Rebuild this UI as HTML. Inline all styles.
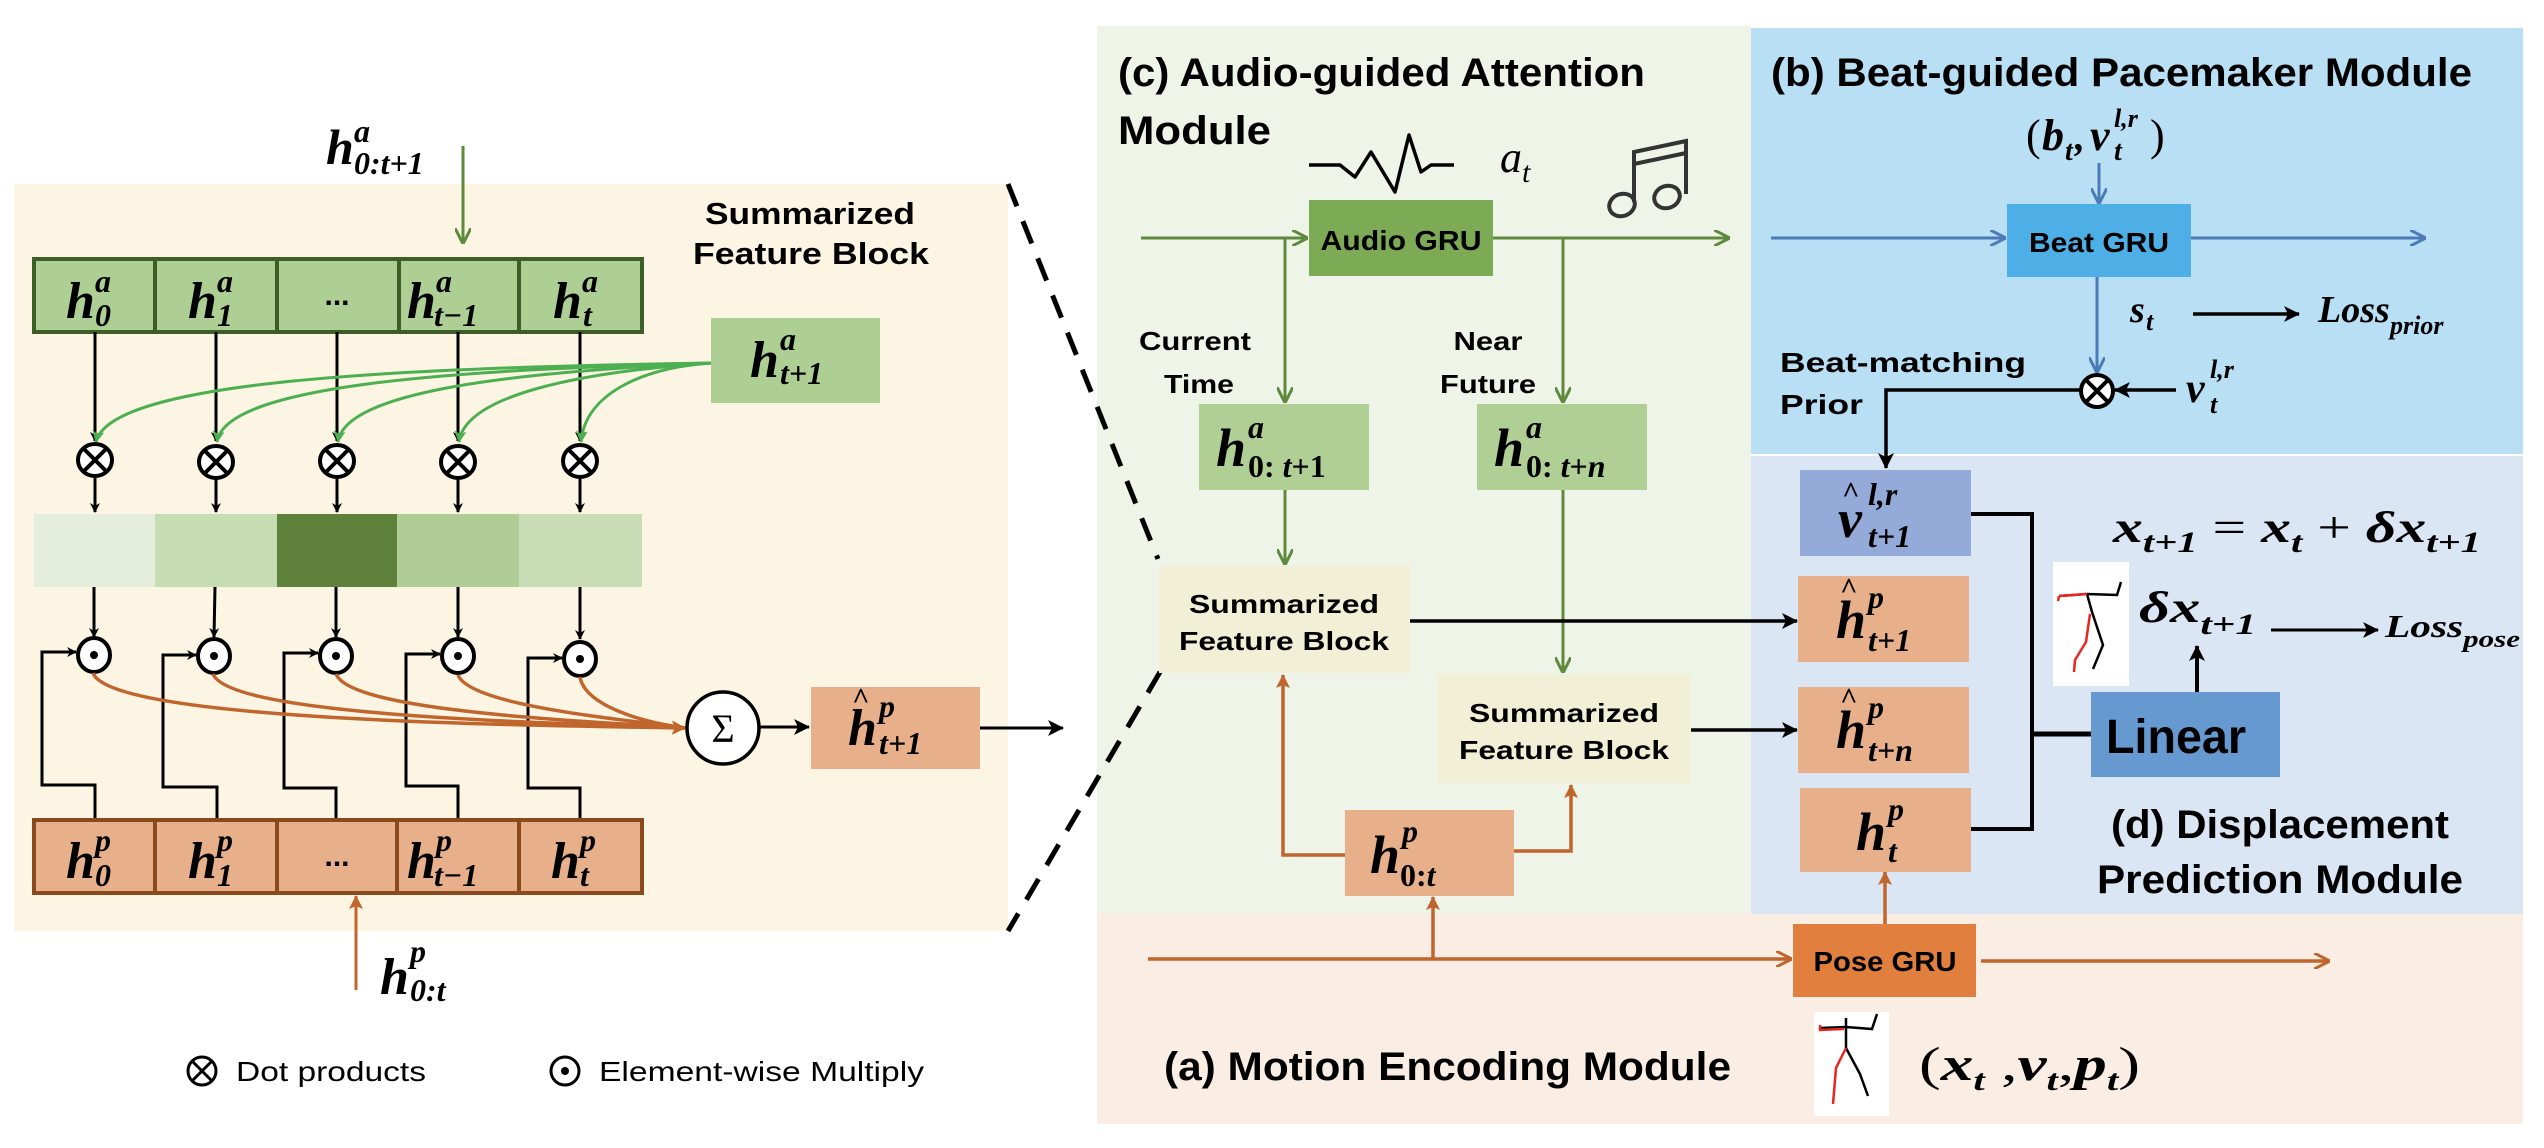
<!DOCTYPE html>
<html><head><meta charset="utf-8"><style>
html,body{margin:0;padding:0;background:#fff}
svg{display:block}
.t{font-family:"Liberation Sans",sans-serif;font-weight:bold;fill:#000}
.m{font-family:"Liberation Serif",serif;font-weight:bold;font-style:italic;fill:#000}
</style></head><body>
<svg width="2544" height="1148" viewBox="0 0 2544 1148" xmlns="http://www.w3.org/2000/svg">
<defs>
<marker id="ak" markerWidth="10" markerHeight="10" refX="9" refY="5" orient="auto" markerUnits="userSpaceOnUse"><path d="M0,0 L10,5 L0,10 L3,5 z" fill="#000"/></marker>
<marker id="akb" markerWidth="16" markerHeight="16" refX="15" refY="8" orient="auto" markerUnits="userSpaceOnUse"><path d="M0,0 L16,8 L0,16 L4,8 z" fill="#000"/></marker>
<marker id="ag" markerWidth="16" markerHeight="16" refX="15" refY="8" orient="auto" markerUnits="userSpaceOnUse"><path d="M0,0 L16,8 L0,16" fill="none" stroke="#5f8a3e" stroke-width="3"/></marker>
<marker id="agg" markerWidth="12" markerHeight="12" refX="11" refY="6" orient="auto" markerUnits="userSpaceOnUse"><path d="M0,0 L12,6 L0,12 L3,6 z" fill="#4caf50"/></marker>
<marker id="ao" markerWidth="16" markerHeight="16" refX="15" refY="8" orient="auto" markerUnits="userSpaceOnUse"><path d="M0,0 L16,8 L0,16" fill="none" stroke="#c0652b" stroke-width="3"/></marker>
<marker id="aof" markerWidth="14" markerHeight="14" refX="13" refY="7" orient="auto" markerUnits="userSpaceOnUse"><path d="M0,0 L14,7 L0,14 L3,7 z" fill="#c0652b"/></marker>
<marker id="ab" markerWidth="16" markerHeight="16" refX="15" refY="8" orient="auto" markerUnits="userSpaceOnUse"><path d="M0,0 L16,8 L0,16" fill="none" stroke="#4a7ab8" stroke-width="3"/></marker>
</defs>

<!-- LEFT PANEL -->
<rect x="14" y="184" width="994" height="747" fill="#fdf5e3"/>
<text class="m" x="326" y="164" font-size="50">h</text>
<text class="m" x="354" y="142" font-size="32">a</text>
<text class="m" x="354" y="174" font-size="32">0:t+1</text>
<line x1="463" y1="146" x2="463" y2="243" stroke="#5f8a3e" stroke-width="3" marker-end="url(#ag)"/>

<text class="t" x="810" y="224" font-size="31" text-anchor="middle" textLength="210" lengthAdjust="spacingAndGlyphs">Summarized</text>
<text class="t" x="811" y="264" font-size="31" text-anchor="middle" textLength="236" lengthAdjust="spacingAndGlyphs">Feature Block</text>

<rect x="34" y="259" width="608" height="73" fill="#aecf94" stroke="#3d5e27" stroke-width="4"/>
<g stroke="#3d5e27" stroke-width="4"><line x1="155" y1="259" x2="155" y2="332"/><line x1="277" y1="259" x2="277" y2="332"/><line x1="399" y1="259" x2="399" y2="332"/><line x1="519" y1="259" x2="519" y2="332"/></g>
<g class="m" font-size="52">
<text x="66" y="318">h</text><text x="188" y="318">h</text><text x="407" y="318">h</text><text x="553" y="318">h</text>
</g>
<g class="m" font-size="32">
<text x="95" y="292">a</text><text x="95" y="326">0</text>
<text x="217" y="292">a</text><text x="217" y="326">1</text>
<text x="436" y="292">a</text><text x="434" y="326">t−1</text>
<text x="582" y="292">a</text><text x="583" y="326">t</text>
</g>
<text class="t" x="337" y="305" font-size="30" text-anchor="middle">...</text>

<rect x="711" y="318" width="169" height="85" fill="#aecf94"/>
<text class="m" x="750" y="377" font-size="52">h</text>
<text class="m" x="780" y="350" font-size="32">a</text>
<text class="m" x="780" y="384" font-size="32">t+1</text>

<g stroke="#000" stroke-width="3">
<line x1="95" y1="332" x2="95" y2="441" marker-end="url(#ak)"/>
<line x1="216" y1="332" x2="216" y2="441" marker-end="url(#ak)"/>
<line x1="337" y1="332" x2="337" y2="441" marker-end="url(#ak)"/>
<line x1="458" y1="332" x2="458" y2="441" marker-end="url(#ak)"/>
<line x1="580" y1="332" x2="580" y2="441" marker-end="url(#ak)"/>
</g>
<g fill="none" stroke="#4caf50" stroke-width="3">
<path d="M711,363 C400,368 110,380 96,442" marker-end="url(#agg)"/>
<path d="M711,363 C450,370 225,385 217,442" marker-end="url(#agg)"/>
<path d="M711,363 C520,372 345,390 338,442" marker-end="url(#agg)"/>
<path d="M711,363 C580,372 465,395 459,442" marker-end="url(#agg)"/>
<path d="M711,363 C640,368 585,395 581,442" marker-end="url(#agg)"/>
</g>
<g stroke="#000" stroke-width="4" fill="#fff">
<g transform="translate(95,460)"><ellipse rx="17" ry="16"/><line x1="-11" y1="-11" x2="11" y2="11"/><line x1="11" y1="-11" x2="-11" y2="11"/></g>
<g transform="translate(216,462)"><ellipse rx="17" ry="16"/><line x1="-11" y1="-11" x2="11" y2="11"/><line x1="11" y1="-11" x2="-11" y2="11"/></g>
<g transform="translate(337,461)"><ellipse rx="17" ry="16"/><line x1="-11" y1="-11" x2="11" y2="11"/><line x1="11" y1="-11" x2="-11" y2="11"/></g>
<g transform="translate(458,462)"><ellipse rx="17" ry="16"/><line x1="-11" y1="-11" x2="11" y2="11"/><line x1="11" y1="-11" x2="-11" y2="11"/></g>
<g transform="translate(580,461)"><ellipse rx="17" ry="16"/><line x1="-11" y1="-11" x2="11" y2="11"/><line x1="11" y1="-11" x2="-11" y2="11"/></g>
</g>
<g stroke="#000" stroke-width="3">
<line x1="95" y1="477" x2="95" y2="512" marker-end="url(#ak)"/>
<line x1="216" y1="479" x2="216" y2="512" marker-end="url(#ak)"/>
<line x1="337" y1="478" x2="337" y2="512" marker-end="url(#ak)"/>
<line x1="458" y1="479" x2="458" y2="512" marker-end="url(#ak)"/>
<line x1="580" y1="478" x2="580" y2="512" marker-end="url(#ak)"/>
</g>
<rect x="34" y="514" width="121" height="73" fill="#e5eedb"/>
<rect x="155" y="514" width="122" height="73" fill="#c6dcb2"/>
<rect x="277" y="514" width="120" height="73" fill="#5e823c"/>
<rect x="397" y="514" width="122" height="73" fill="#afcd94"/>
<rect x="519" y="514" width="123" height="73" fill="#c8ddb5"/>
<g stroke="#000" stroke-width="3">
<line x1="94" y1="587" x2="94" y2="637" marker-end="url(#ak)"/>
<line x1="215" y1="587" x2="214" y2="637" marker-end="url(#ak)"/>
<line x1="336" y1="587" x2="336" y2="637" marker-end="url(#ak)"/>
<line x1="458" y1="587" x2="458" y2="637" marker-end="url(#ak)"/>
<line x1="580" y1="587" x2="580" y2="639" marker-end="url(#ak)"/>
</g>
<g fill="none" stroke="#000" stroke-width="3">
<path d="M95,819 V785 H42 V652 H76" marker-end="url(#ak)"/>
<path d="M217,819 V787 H163 V655 H196" marker-end="url(#ak)"/>
<path d="M336,819 V788 H284 V653 H318" marker-end="url(#ak)"/>
<path d="M458,819 V786 H406 V654 H440" marker-end="url(#ak)"/>
<path d="M580,819 V788 H528 V658 H562" marker-end="url(#ak)"/>
</g>
<g stroke="#000" stroke-width="4" fill="#fff">
<ellipse cx="94" cy="655" rx="16" ry="17"/><ellipse cx="214" cy="656" rx="16" ry="17"/><ellipse cx="336" cy="656" rx="16" ry="17"/><ellipse cx="458" cy="656" rx="16" ry="17"/><ellipse cx="580" cy="659" rx="16" ry="17"/>
</g>
<g fill="#000"><circle cx="94" cy="655" r="4"/><circle cx="214" cy="656" r="4"/><circle cx="336" cy="656" r="4"/><circle cx="458" cy="656" r="4"/><circle cx="580" cy="659" r="4"/></g>
<g fill="none" stroke="#c0652b" stroke-width="3.5">
<path d="M93,673 C110,720 500,725 685,728" marker-end="url(#aof)"/>
<path d="M213,674 C230,715 520,722 685,728" marker-end="url(#aof)"/>
<path d="M336,674 C350,710 560,720 685,728"/>
<path d="M458,675 C470,705 610,718 685,728"/>
<path d="M580,677 C585,705 640,722 685,728"/>
</g>
<circle cx="723" cy="728" r="36" fill="#fff" stroke="#000" stroke-width="3.5"/>
<text x="723" y="742" font-family="Liberation Serif,serif" font-size="40" text-anchor="middle">Σ</text>
<line x1="759" y1="727" x2="809" y2="727" stroke="#000" stroke-width="3" marker-end="url(#akb)"/>
<rect x="811" y="687" width="169" height="82" fill="#e8b08a"/>
<text class="m" x="848" y="745" font-size="52">h</text>
<text class="m" x="852" y="708" font-size="30">^</text>
<text class="m" x="879" y="717" font-size="32">p</text>
<text class="m" x="879" y="754" font-size="32">t+1</text>
<line x1="980" y1="728" x2="1063" y2="728" stroke="#000" stroke-width="3" marker-end="url(#akb)"/>

<rect x="34" y="820" width="608" height="73" fill="#e8b08a" stroke="#8a4a1e" stroke-width="4"/>
<g stroke="#8a4a1e" stroke-width="4"><line x1="155" y1="820" x2="155" y2="893"/><line x1="277" y1="820" x2="277" y2="893"/><line x1="397" y1="820" x2="397" y2="893"/><line x1="519" y1="820" x2="519" y2="893"/></g>
<g class="m" font-size="52">
<text x="66" y="878">h</text><text x="188" y="878">h</text><text x="407" y="878">h</text><text x="551" y="878">h</text>
</g>
<g class="m" font-size="32">
<text x="95" y="851">p</text><text x="95" y="886">0</text>
<text x="217" y="851">p</text><text x="217" y="886">1</text>
<text x="436" y="851">p</text><text x="434" y="886">t−1</text>
<text x="580" y="851">p</text><text x="580" y="886">t</text>
</g>
<text class="t" x="337" y="866" font-size="30" text-anchor="middle">...</text>
<line x1="356" y1="990" x2="356" y2="896" stroke="#c0652b" stroke-width="3" marker-end="url(#aof)"/>
<text class="m" x="380" y="994" font-size="52">h</text>
<text class="m" x="410" y="962" font-size="32">p</text>
<text class="m" x="410" y="1001" font-size="32">0:t</text>

<g stroke="#000" stroke-width="3" fill="none"><circle cx="202" cy="1071" r="14"/><line x1="192" y1="1061" x2="212" y2="1081"/><line x1="212" y1="1061" x2="192" y2="1081"/><circle cx="565" cy="1071" r="14"/></g>
<circle cx="565" cy="1071" r="4" fill="#000"/>
<text x="236" y="1081" font-family="Liberation Sans,sans-serif" font-size="28" textLength="190" lengthAdjust="spacingAndGlyphs">Dot products</text>
<text x="599" y="1081" font-family="Liberation Sans,sans-serif" font-size="28" textLength="325" lengthAdjust="spacingAndGlyphs">Element-wise Multiply</text>

<!-- RIGHT backgrounds -->
<rect x="1097" y="26" width="654" height="888" fill="#eff4e8"/>
<rect x="1097" y="913" width="1426" height="211" fill="#f9ede4"/>
<rect x="1751" y="28" width="772" height="426" fill="#b9dff5"/>
<rect x="1751" y="456" width="772" height="458" fill="#dae6f3"/>

<g stroke="#000" stroke-width="5" stroke-dasharray="24,16" fill="none">
<line x1="1008" y1="184" x2="1158" y2="559"/>
<line x1="1160" y1="672" x2="1008" y2="931"/>
</g>

<!-- (c) -->
<text class="t" x="1118" y="86" font-size="40" textLength="527" lengthAdjust="spacingAndGlyphs">(c) Audio-guided Attention</text>
<text class="t" x="1118" y="144" font-size="40" textLength="153" lengthAdjust="spacingAndGlyphs">Module</text>
<polyline points="1309,165 1340,165 1355,177 1371,152 1395,192 1409,135 1421,172 1431,165 1454,165" fill="none" stroke="#000" stroke-width="3.5" stroke-linejoin="round"/>
<text x="1500" y="172" font-family="Liberation Serif,serif" font-style="italic" font-size="44">a</text>
<text x="1522" y="182" font-family="Liberation Serif,serif" font-style="italic" font-size="30">t</text>
<g fill="none" stroke="#333" stroke-width="4">
<ellipse cx="1622" cy="205" rx="13" ry="11" transform="rotate(-20 1622 205)"/>
<ellipse cx="1667" cy="197" rx="13" ry="11" transform="rotate(-20 1667 197)"/>
<path d="M1634,202 V152 L1686,141 V194"/><line x1="1634" y1="164" x2="1686" y2="153"/>
</g>

<rect x="1309" y="200" width="184" height="76" fill="#7daa55"/>
<text class="t" x="1401" y="250" font-size="28" text-anchor="middle" textLength="161" lengthAdjust="spacingAndGlyphs">Audio GRU</text>
<g stroke="#5f8a3e" stroke-width="3" fill="none">
<line x1="1141" y1="238" x2="1307" y2="238" marker-end="url(#ag)"/>
<line x1="1493" y1="238" x2="1729" y2="238" marker-end="url(#ag)"/>
<line x1="1285" y1="238" x2="1285" y2="402" marker-end="url(#ag)"/>
<line x1="1563" y1="238" x2="1563" y2="402" marker-end="url(#ag)"/>
<line x1="1285" y1="490" x2="1285" y2="564" marker-end="url(#ag)"/>
<line x1="1563" y1="490" x2="1563" y2="672" marker-end="url(#ag)"/>
</g>
<text class="t" x="1195" y="350" font-size="26" text-anchor="middle" textLength="112" lengthAdjust="spacingAndGlyphs">Current</text>
<text class="t" x="1199" y="393" font-size="26" text-anchor="middle" textLength="70" lengthAdjust="spacingAndGlyphs">Time</text>
<text class="t" x="1488" y="350" font-size="26" text-anchor="middle" textLength="69" lengthAdjust="spacingAndGlyphs">Near</text>
<text class="t" x="1488" y="393" font-size="26" text-anchor="middle" textLength="96" lengthAdjust="spacingAndGlyphs">Future</text>

<rect x="1199" y="404" width="170" height="86" fill="#b0cf94"/>
<text class="m" x="1216" y="466" font-size="54">h</text>
<text class="m" x="1248" y="438" font-size="32">a</text>
<text x="1248" y="477" font-size="32" font-family="Liberation Serif,serif" font-weight="bold">0: <tspan font-style="italic">t</tspan>+1</text>
<rect x="1477" y="404" width="170" height="86" fill="#b0cf94"/>
<text class="m" x="1494" y="466" font-size="54">h</text>
<text class="m" x="1526" y="438" font-size="32">a</text>
<text x="1526" y="477" font-size="32" font-family="Liberation Serif,serif" font-weight="bold">0: <tspan font-style="italic">t</tspan>+<tspan font-style="italic">n</tspan></text>

<rect x="1159" y="566" width="251" height="107" fill="#f1f0d6"/>
<text class="t" x="1284" y="613" font-size="26" text-anchor="middle" textLength="190" lengthAdjust="spacingAndGlyphs">Summarized</text>
<text class="t" x="1284" y="650" font-size="26" text-anchor="middle" textLength="210" lengthAdjust="spacingAndGlyphs">Feature Block</text>
<rect x="1437" y="674" width="254" height="109" fill="#f1f0d6"/>
<text class="t" x="1564" y="722" font-size="26" text-anchor="middle" textLength="190" lengthAdjust="spacingAndGlyphs">Summarized</text>
<text class="t" x="1564" y="759" font-size="26" text-anchor="middle" textLength="210" lengthAdjust="spacingAndGlyphs">Feature Block</text>

<line x1="1410" y1="621" x2="1797" y2="621" stroke="#000" stroke-width="3.5" marker-end="url(#akb)"/>
<line x1="1691" y1="730" x2="1797" y2="730" stroke="#000" stroke-width="3.5" marker-end="url(#akb)"/>

<rect x="1345" y="810" width="169" height="86" fill="#e8b08a"/>
<text class="m" x="1370" y="873" font-size="54">h</text>
<text class="m" x="1402" y="842" font-size="32">p</text>
<text x="1400" y="886" font-size="32" font-family="Liberation Serif,serif" font-weight="bold">0:<tspan font-style="italic">t</tspan></text>
<g stroke="#c0652b" stroke-width="3.5" fill="none">
<path d="M1345,855 H1283 V675" marker-end="url(#aof)"/>
<path d="M1514,851 H1571 V785" marker-end="url(#aof)"/>
<line x1="1433" y1="959" x2="1433" y2="897" marker-end="url(#aof)"/>
<line x1="1148" y1="959" x2="1791" y2="959" marker-end="url(#ao)"/>
<line x1="1981" y1="961" x2="2329" y2="961" marker-end="url(#ao)"/>
<line x1="1885" y1="924" x2="1885" y2="872" marker-end="url(#aof)"/>
</g>

<!-- (b) -->
<text class="t" x="1771" y="86" font-size="40" textLength="701" lengthAdjust="spacingAndGlyphs">(b) Beat-guided Pacemaker Module</text>
<text x="2026" y="150" font-family="Liberation Serif,serif" font-size="44">(</text>
<text class="m" x="2042" y="150" font-size="44">b</text>
<text class="m" x="2065" y="160" font-size="28">t</text>
<text class="m" x="2075" y="150" font-size="40">,</text>
<text class="m" x="2090" y="150" font-size="44">v</text>
<text class="m" x="2114" y="127" font-size="26">l,r</text>
<text class="m" x="2114" y="160" font-size="28">t</text>
<text x="2150" y="150" font-family="Liberation Serif,serif" font-size="44">)</text>
<g stroke="#4a7ab8" stroke-width="3" fill="none">
<line x1="2099" y1="163" x2="2099" y2="203" marker-end="url(#ab)"/>
<line x1="1771" y1="238" x2="2005" y2="238" marker-end="url(#ab)"/>
<line x1="2191" y1="238" x2="2425" y2="238" marker-end="url(#ab)"/>
<line x1="2097" y1="277" x2="2097" y2="372" marker-end="url(#ab)"/>
</g>
<rect x="2007" y="204" width="184" height="73" fill="#4eaee6"/>
<text class="t" x="2099" y="252" font-size="28" text-anchor="middle" textLength="140" lengthAdjust="spacingAndGlyphs">Beat GRU</text>
<text class="m" x="2130" y="322" font-size="38">s</text>
<text class="m" x="2146" y="330" font-size="26">t</text>
<line x1="2193" y1="314" x2="2299" y2="314" stroke="#000" stroke-width="3.5" marker-end="url(#akb)"/>
<text class="m" x="2318" y="322" font-size="38">Loss</text>
<text class="m" x="2390" y="334" font-size="26">prior</text>
<text class="t" x="1780" y="372" font-size="28" textLength="246" lengthAdjust="spacingAndGlyphs">Beat-matching</text>
<text class="t" x="1780" y="414" font-size="28" textLength="83" lengthAdjust="spacingAndGlyphs">Prior</text>
<g stroke="#000" stroke-width="4" fill="#fff"><circle cx="2097" cy="391" r="16"/><line x1="2086" y1="380" x2="2108" y2="402"/><line x1="2108" y1="380" x2="2086" y2="402"/></g>
<line x1="2176" y1="390" x2="2115" y2="390" stroke="#000" stroke-width="3.5" marker-end="url(#akb)"/>
<text class="m" x="2186" y="402" font-size="42">v</text>
<text class="m" x="2210" y="378" font-size="26">l,r</text>
<text class="m" x="2210" y="413" font-size="26">t</text>
<path d="M2081,390 H1886 V468" fill="none" stroke="#000" stroke-width="3.5" marker-end="url(#akb)"/>

<!-- (d) -->
<rect x="1800" y="470" width="171" height="86" fill="#94aad9"/>
<text class="m" x="1838" y="537" font-size="54">v</text>
<text class="m" x="1842" y="502" font-size="30">^</text>
<text class="m" x="1868" y="505" font-size="32">l,r</text>
<text class="m" x="1868" y="547" font-size="32">t+1</text>
<rect x="1798" y="576" width="171" height="86" fill="#e8b08a"/>
<text class="m" x="1836" y="638" font-size="54">h</text>
<text class="m" x="1840" y="598" font-size="30">^</text>
<text class="m" x="1868" y="608" font-size="32">p</text>
<text class="m" x="1868" y="651" font-size="32">t+1</text>
<rect x="1798" y="687" width="171" height="86" fill="#e8b08a"/>
<text class="m" x="1836" y="748" font-size="54">h</text>
<text class="m" x="1840" y="708" font-size="30">^</text>
<text class="m" x="1868" y="718" font-size="32">p</text>
<text class="m" x="1868" y="761" font-size="32">t+n</text>
<rect x="1800" y="788" width="171" height="84" fill="#e8b08a"/>
<text class="m" x="1856" y="850" font-size="54">h</text>
<text class="m" x="1888" y="820" font-size="32">p</text>
<text class="m" x="1888" y="862" font-size="32">t</text>
<g fill="none" stroke="#000" stroke-width="4">
<path d="M1971,514 H2032 V829 H1971"/>
<line x1="2032" y1="734" x2="2091" y2="734" stroke-width="5"/>
</g>
<rect x="2091" y="692" width="189" height="85" fill="#6699cf"/>
<text class="t" x="2106" y="753" font-size="48" textLength="140" lengthAdjust="spacingAndGlyphs">Linear</text>
<line x1="2197" y1="692" x2="2197" y2="646" stroke="#000" stroke-width="4" marker-end="url(#akb)"/>
<text x="2113" y="542" font-family="Liberation Serif,serif" font-size="44" textLength="368" lengthAdjust="spacingAndGlyphs"><tspan class="m">x</tspan><tspan class="m" font-size="30" dy="10">t+1</tspan><tspan dy="-10"> = </tspan><tspan class="m">x</tspan><tspan class="m" font-size="30" dy="10">t</tspan><tspan dy="-10"> + </tspan><tspan class="m">δx</tspan><tspan class="m" font-size="30" dy="10">t+1</tspan></text>
<text x="2139" y="622" font-family="Liberation Serif,serif" font-size="44" textLength="117" lengthAdjust="spacingAndGlyphs"><tspan class="m">δx</tspan><tspan class="m" font-size="30" dy="12">t+1</tspan></text>
<line x1="2271" y1="630" x2="2378" y2="630" stroke="#000" stroke-width="3" marker-end="url(#akb)"/>
<text x="2385" y="637" font-family="Liberation Serif,serif" font-size="32" textLength="135" lengthAdjust="spacingAndGlyphs"><tspan class="m">Loss</tspan><tspan class="m" font-size="24" dy="10">pose</tspan></text>
<rect x="2053" y="562" width="76" height="124" fill="#fff"/>
<g fill="none" stroke-width="2.5"><path d="M2059,596 L2087,594 L2117,595 L2121,582" stroke="#000"/><path d="M2087,594 L2092,612 L2103,645 L2093,669" stroke="#000"/><path d="M2090,614 L2086,642 L2075,660 L2074,672" stroke="#e8261d"/><path d="M2059,596 L2058,601 M2059,596 L2087,594" stroke="#e8261d"/></g>
<text class="t" x="2111" y="838" font-size="40" textLength="338" lengthAdjust="spacingAndGlyphs">(d) Displacement</text>
<text class="t" x="2097" y="893" font-size="40" textLength="366" lengthAdjust="spacingAndGlyphs">Prediction Module</text>

<!-- (a) -->
<rect x="1793" y="924" width="183" height="73" fill="#e07f3e"/>
<text class="t" x="1885" y="971" font-size="28" text-anchor="middle" textLength="143" lengthAdjust="spacingAndGlyphs">Pose GRU</text>
<text class="t" x="1164" y="1080" font-size="40" textLength="567" lengthAdjust="spacingAndGlyphs">(a) Motion Encoding Module</text>
<rect x="1814" y="1012" width="75" height="104" fill="#fff"/>
<g fill="none" stroke-width="2.5"><path d="M1820,1028 L1846,1027 L1872,1029 L1877,1014" stroke="#000"/><path d="M1846,1018 L1846,1048 L1860,1074 L1868,1096" stroke="#000"/><path d="M1846,1048 L1836,1068 L1833,1104" stroke="#e8261d"/><path d="M1820,1025 L1820,1030 L1844,1029" stroke="#e8261d"/></g>
<text x="1919" y="1080" font-family="Liberation Serif,serif" font-size="48" textLength="221" lengthAdjust="spacingAndGlyphs">(<tspan class="m">x</tspan><tspan class="m" font-size="30" dy="10">t</tspan><tspan dy="-10"> ,</tspan><tspan class="m">v</tspan><tspan class="m" font-size="30" dy="10">t</tspan><tspan dy="-10">,</tspan><tspan class="m">p</tspan><tspan class="m" font-size="30" dy="10">t</tspan><tspan dy="-10">)</tspan></text>
</svg>
</body></html>
